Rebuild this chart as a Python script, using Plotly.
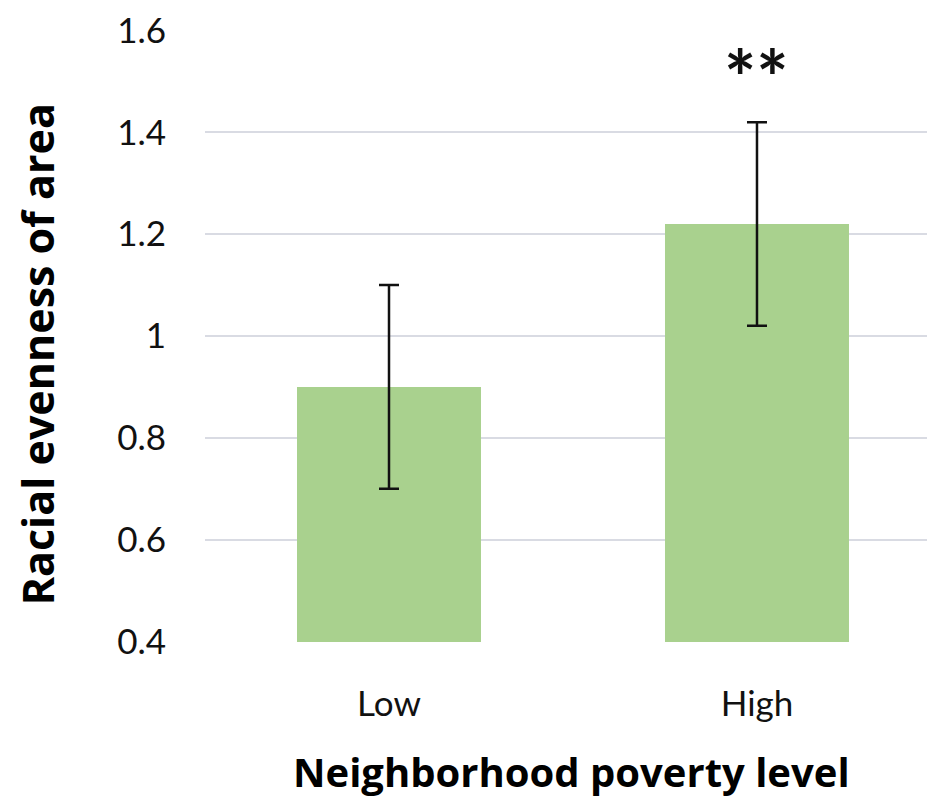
import plotly.graph_objects as go

# Mean racial evenness by neighborhood poverty level, with error margins
categories = ["Low", "High"]
means = [0.90, 1.22]
errors = [0.20, 0.20]
significance = ["", "**"]
y_ticks = [0.4, 0.6, 0.8, 1.0, 1.2, 1.4, 1.6]
y_tick_labels = ["0.4", "0.6", "0.8", "1", "1.2", "1.4", "1.6"]

TICK_FONT = "Lato"
TITLE_FONT = "Open Sans"
BAR_COLOR = "#a9d18e"
GRID_COLOR = "#d9dbe3"

fig = go.Figure(
    go.Bar(
        x=categories,
        y=means,
        width=0.5,
        marker=dict(color=BAR_COLOR, line=dict(width=0)),
        error_y=dict(
            type="data",
            array=errors,
            visible=True,
            color="#111111",
            thickness=2.5,
            width=10,
        ),
    )
)

# Significance markers above the bars
for cat, s in zip(categories, significance):
    if s:
        fig.add_annotation(
            x=cat, y=1.51, text=f"<b>{s}</b>", showarrow=False,
            font=dict(family=TICK_FONT, size=76, color="#111111"),
            xanchor="center", yanchor="middle",
        )

# Axis titles
fig.add_annotation(
    x=0.508, xref="paper", y=-0.212, yref="paper",
    text="<b>Neighborhood poverty level</b>", showarrow=False,
    font=dict(family=TITLE_FONT, size=40, color="#000000"),
    xanchor="center", yanchor="middle",
)
fig.add_annotation(
    x=-0.2327, xref="paper", y=0.47, yref="paper",
    text="<b>Racial evenness of area</b>", showarrow=False, textangle=-90,
    font=dict(family=TITLE_FONT, size=43, color="#000000"),
    xanchor="center", yanchor="middle",
)

fig.update_layout(
    width=927,
    height=799,
    margin=dict(l=205, r=0, t=30, b=157),
    paper_bgcolor="white",
    plot_bgcolor="white",
    showlegend=False,
    font=dict(family=TICK_FONT, color="#111111"),
    xaxis=dict(
        range=[-0.5, 1.462],
        showgrid=False,
        showline=False,
        zeroline=False,
        ticks="",
        tickfont=dict(family=TICK_FONT, size=35, color="#111111"),
        ticklabelstandoff=38,
    ),
    yaxis=dict(
        range=[0.399, 1.601],
        tickvals=y_ticks,
        ticktext=y_tick_labels,
        showgrid=True,
        gridcolor=GRID_COLOR,
        gridwidth=2,
        showline=False,
        zeroline=False,
        ticks="",
        tickfont=dict(family=TICK_FONT, size=35, color="#111111"),
        ticklabelstandoff=38,
    ),
)

fig.write_html("out.html")
